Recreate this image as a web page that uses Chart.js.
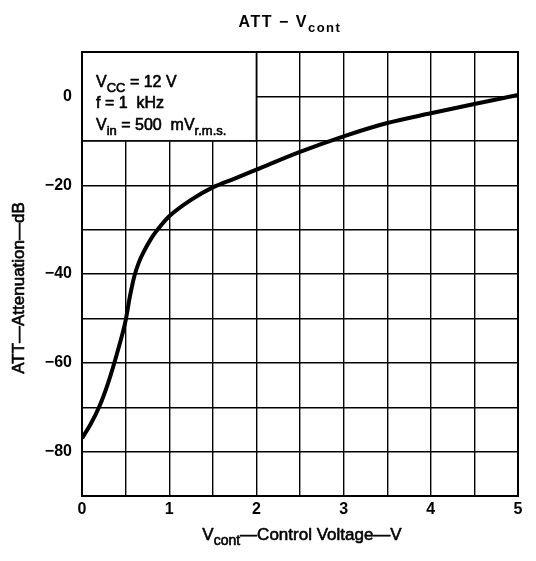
<!DOCTYPE html>
<html>
<head>
<meta charset="utf-8">
<script src="https://cdn.jsdelivr.net/npm/chart.js@4/dist/chart.umd.min.js"></script>
<style>
  html, body { margin: 0; padding: 0; background: #fff; }
  #wrap { width: 536px; height: 561px; }
</style>
</head>
<body>
<div id="wrap"><canvas id="attChart" width="536" height="561"></canvas></div>
<script>
// curve: control voltage (V) vs attenuation (dB)
const vcont = [0, 0.1, 0.2, 0.3, 0.4, 0.5, 0.55, 0.6, 0.65, 0.7, 0.8, 0.9, 1.0, 1.25, 1.5, 1.75, 2.0, 2.5, 3.0, 3.5, 4.0, 4.5, 5.0];
const attDb = [-77, -73.8, -69.8, -64.5, -58, -50.5, -45, -40.5, -37.5, -35.3, -31.8, -29.2, -27, -23.3, -20.5, -18.5, -16.5, -12.5, -9, -6, -3.8, -1.7, 0.3];

const xTickLabels = [0, 1, 2, 3, 4, 5];
const yTickLabels = [0, -20, -40, -60, -80];

const fontFam = "'Liberation Sans', Arial, sans-serif";
const ctx = document.querySelector("#attChart");

// draws text with a subscript part: parts = [[text, isSub], ...]
// a thin stroke makes the regular face look like the medium print of the scan
function drawParts(c, parts, x, y, size, align, weight, spacing) {
  const w = weight || "normal";
  c.letterSpacing = (spacing || 0) + "px";
  c.strokeStyle = "#000";
  c.lineWidth = 0.6;
  c.lineJoin = "round";
  let total = 0;
  parts.forEach((p) => {
    c.font = w + " " + (p[1] ? Math.round(size * 0.8) : size) + "px " + fontFam;
    total += c.measureText(p[0]).width;
  });
  let cx = align === "center" ? x - total / 2 : x;
  parts.forEach((p) => {
    c.font = w + " " + (p[1] ? Math.round(size * 0.8) : size) + "px " + fontFam;
    c.textAlign = "left";
    c.textBaseline = "alphabetic";
    const ty = p[1] ? y + size * 0.3 : y;
    c.fillText(p[0], cx, ty);
    if (w === "normal") c.strokeText(p[0], cx, ty);
    cx += c.measureText(p[0]).width;
  });
  c.letterSpacing = "0px";
}

// inset box, frame and titles
const decorPlugin = {
  id: "decor",
  beforeDatasetsDraw(chart) {
    const c = chart.ctx;
    const xs = chart.scales.x, ys = chart.scales.y;
    const l = xs.getPixelForValue(0), r = xs.getPixelForValue(2);
    const t = ys.getPixelForValue(10), b = ys.getPixelForValue(-10);
    c.save();
    c.fillStyle = "#fff";
    c.fillRect(l, t, r - l, b - t);
    c.strokeStyle = "#000";
    c.lineWidth = 1.5;
    c.strokeRect(l, t, r - l, b - t);
    c.fillStyle = "#000";
    drawParts(c, [["V", false], ["CC", true], [" = 12 V", false]], l + 14, t + 35, 16);
    drawParts(c, [["f = 1  kHz", false]], l + 14, t + 56, 16);
    drawParts(c, [["V", false], ["in", true], [" = 500  mV", false], ["r.m.s.", true]], l + 14, t + 78, 16);
    c.restore();
  },
  afterDraw(chart) {
    const c = chart.ctx;
    const a = chart.chartArea;
    c.save();
    c.strokeStyle = "#000";
    c.lineWidth = 2;
    c.strokeRect(a.left, a.top, a.right - a.left, a.bottom - a.top);
    c.fillStyle = "#000";
    drawParts(c, [["ATT \u2212 V", false], ["cont", true]], 290, 27, 16, "center", "bold", 1.5);
    drawParts(c, [["V", false], ["cont", true], ["\u2014Control Voltage\u2014V", false]], 302, 540, 17, "center");
    c.translate(24, 288);
    c.rotate(-Math.PI / 2);
    drawParts(c, [["ATT\u2014Attenuation\u2014dB", false]], 0, 0, 17, "center");
    c.restore();
  },
};

const attChart = new Chart(ctx, {
  type: "line",
  data: {
    datasets: [
      {
        data: vcont.map((v, i) => ({ x: v, y: attDb[i] })),
        borderColor: "#000",
        borderWidth: 4,
        pointRadius: 0,
        cubicInterpolationMode: "monotone",
        fill: false,
      },
    ],
  },
  options: {
    responsive: false,
    animation: false,
    layout: { padding: { left: 0, right: 18, top: 52, bottom: 0 } },
    plugins: { legend: { display: false }, tooltip: { enabled: false } },
    scales: {
      x: {
        type: "linear",
        min: 0,
        max: 5,
        afterFit(axis) { axis.height = 65; },
        ticks: {
          stepSize: 0.5,
          color: "#000",
          padding: 4,
          maxRotation: 0,
          autoSkip: false,
          font: { family: fontFam, size: 16, weight: "bold" },
          callback: (v) => (xTickLabels.includes(v) ? String(v) : ""),
        },
        grid: { color: "#000", lineWidth: 1.4, drawTicks: false },
        border: { color: "#000", width: 2 },
      },
      y: {
        min: -90,
        max: 10,
        afterFit(axis) { axis.width = 82; },
        ticks: {
          stepSize: 10,
          color: "#000",
          padding: 10,
          autoSkip: false,
          font: { family: fontFam, size: 16, weight: "bold" },
          callback: (v) => (yTickLabels.includes(v) ? (v < 0 ? "\u2212" + Math.abs(v) : String(v)) : ""),
        },
        grid: { color: "#000", lineWidth: 1.4, drawTicks: false },
        border: { color: "#000", width: 2 },
      },
    },
  },
  plugins: [decorPlugin],
});
</script>
</body>
</html>
